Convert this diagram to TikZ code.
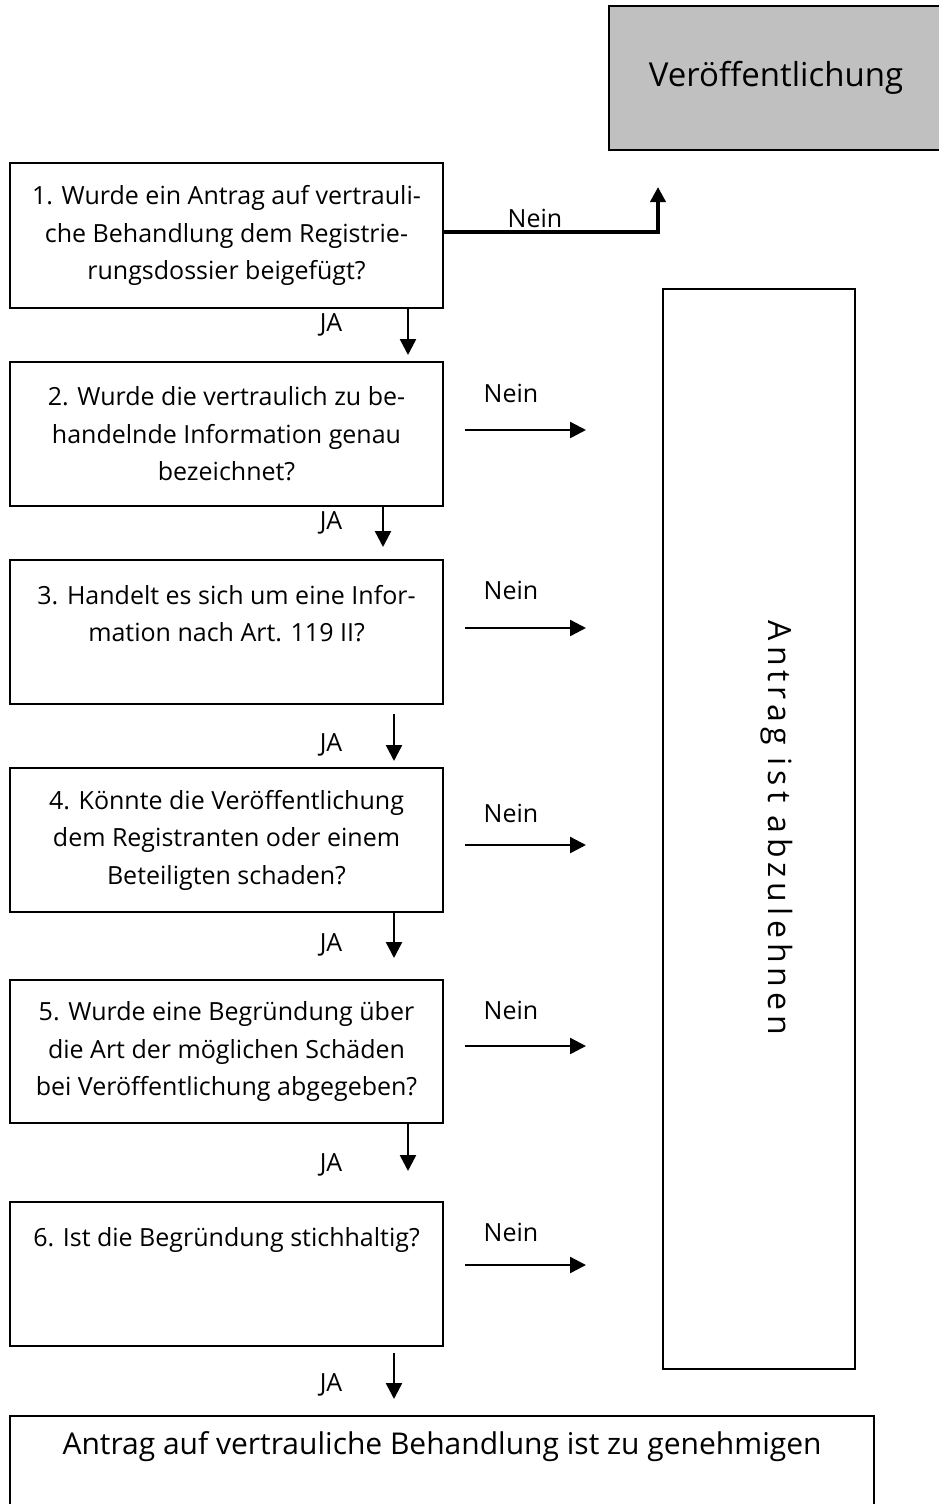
\documentclass[tikz,border=0pt]{standalone}
\usepackage{fontspec}
\setmainfont{Open Sans}
\usetikzlibrary{arrows.meta,calc}
\definecolor{pubgray}{RGB}{192,192,192}
\begin{document}
\begin{tikzpicture}[x=1pt,y=-1pt,
  box/.style={draw, line width=2pt, minimum width=433pt, minimum height=144pt, align=center, inner sep=0pt, font=\fontsize{25}{37.5}\selectfont},
  lbl/.style={font=\fontsize{25}{30}\selectfont, inner sep=0pt},
  arr/.style={line width=2.4pt, -{Triangle[length=16pt,width=16pt]}},
  thickarr/.style={line width=4pt, -{Triangle[length=15pt,width=15pt]}},
]
\useasboundingbox (0,0) rectangle (938,1504);

% result boxes
\node[draw, line width=2pt, fill=pubgray, minimum width=361pt, minimum height=144pt, inner sep=0pt] (pub) at (789.5,78) {};
\node[font=\fontsize{33}{40}\selectfont, inner sep=0pt, anchor=base] (pubtxt) at (776,86) {Veröffentlichung};
\node[draw, line width=2pt, minimum width=192pt, minimum height=1080pt, inner sep=0pt] (rej) at (759,829) {};
\node[rotate=-90, inner sep=0pt, font=\fontsize{32}{34}\selectfont\addfontfeature{LetterSpace=15.5}] (rejtxt) at (777,828) {Antrag ist abzulehnen};
\node[draw, line width=2pt, minimum width=864pt, minimum height=114pt, inner sep=0pt] (fin) at (442,1473) {};
\node[font=\fontsize{30}{36}\selectfont, inner sep=0pt] (fintxt) at (442,1447) {Antrag auf vertrauliche Behandlung ist zu genehmigen};

% question boxes
\node[box, minimum height=145pt] (b1) at (226.5,235.5) {1. Wurde ein Antrag auf vertrauli-\\che Behandlung dem Registrie-\\rungsdossier beigefügt?};
\node[box] (b2) at (226.5,434) {2. Wurde die vertraulich zu be-\\handelnde Information genau\\bezeichnet?};
\node[box] (b3) at (226.5,632) {3. Handelt es sich um eine Infor-\\mation nach Art. 119 II?\\\mbox{}};
\node[box] (b4) at (226.5,840) {4. Könnte die Veröffentlichung\\dem Registranten oder einem\\Beteiligten schaden?};
\node[box, minimum height=143pt] (b5) at (226.5,1051.5) {5. Wurde eine Begründung über\\die Art der möglichen Schäden\\bei Veröffentlichung abgegeben?};
\node[box] (b6) at (226.5,1274) {6. Ist die Begründung stichhaltig?\\\mbox{}\\\mbox{}};

% Nein from 1 to publication
\coordinate (pubin) at (658,187);
\draw[thickarr] ([yshift=3.5pt]b1.east) -| (pubin);
\node[lbl] (n1) at (535,218) {Nein};

% Nein arrows to rejection
\foreach \i/\y/\ly in {2/430/393, 3/628/590, 4/845/813, 5/1046/1010, 6/1265/1232}{
  \coordinate (ns\i) at (465,\y);
  \coordinate (ne\i) at (586,\y);
  \draw[arr] (ns\i) -- (ne\i);
  \node[lbl] (n\i) at (511,\ly) {Nein};
}

% JA arrows
\draw[arr] (b1.south -| 408,0) -- ([yshift=6pt]b2.north -| 408,0);
\draw[arr] (b2.south -| 383,0) -- ([yshift=12pt]b3.north -| 383,0);
\draw[arr] ([yshift=-9pt]b3.south -| 394,0) -- ([yshift=6pt]b4.north -| 394,0);
\draw[arr] (b4.south -| 394,0) -- ([yshift=21pt]b5.north -| 394,0);
\draw[arr] (b5.south -| 408,0) -- ([yshift=30pt]b6.north -| 408,0);
\draw[arr] ([yshift=-6pt]b6.south -| 394,0) -- ([yshift=16pt]fin.north -| 394,0);

\node[lbl] (j1) at (331,325) {JA};
\node[lbl] (j2) at (331,523) {JA};
\node[lbl] (j3) at (331,745) {JA};
\node[lbl] (j4) at (331,945) {JA};
\node[lbl] (j5) at (331,1165) {JA};
\node[lbl] (j6) at (331,1385) {JA};
\end{tikzpicture}
\end{document}
